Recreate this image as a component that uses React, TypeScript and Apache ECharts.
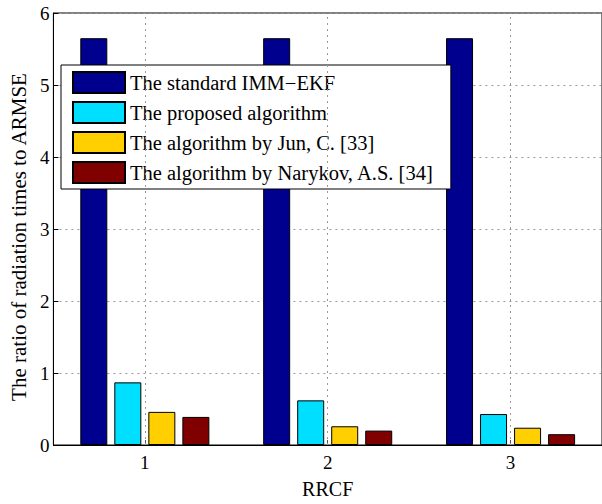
import React, { useEffect, useRef } from "react";
import * as echarts from "echarts";

const categories = ["1", "2", "3"];
const seriesNames = [
  "The standard IMM\u2212EKF",
  "The proposed algorithm",
  "The algorithm by Jun, C. [33]",
  "The algorithm by Narykov, A.S. [34]",
];
const standardImm = [5.65, 5.65, 5.65];
const proposed = [0.87, 0.62, 0.43];
const junC = [0.46, 0.26, 0.24];
const narykov = [0.39, 0.2, 0.15];
const yTicks = [0, 1, 2, 3, 4, 5, 6];
const colors = ["#00008F", "#00DFFF", "#FFCF00", "#800000"];

const FONT = "Liberation Serif";

export default function App() {
  const ref = useRef<HTMLDivElement>(null);
  useEffect(() => {
    document.body.style.margin = "0";
    const chart = echarts.init(ref.current!, null, { renderer: "svg" });
    const values = [standardImm, proposed, junC, narykov];
    const series: any[] = values.map((v, i) => ({
      type: "bar",
      name: seriesNames[i],
      data: v,
      barWidth: 27,
      barGap: "26%",
      z: 3,
      itemStyle: { color: colors[i], borderColor: "#000", borderWidth: 1 },
      emphasis: { disabled: true },
    }));
    series.push({
      type: "line",
      name: "grid",
      data: [],
      z: 1,
      silent: true,
      markLine: {
        silent: true,
        symbol: "none",
        label: { show: false },
        lineStyle: { type: [2, 4], color: "#999", width: 1 },
        data: categories.map((c) => ({ xAxis: c })),
      },
    });
    chart.setOption({
      animation: false,
      textStyle: { fontFamily: FONT },
      grid: {
        left: 50,
        right: -7,
        top: 13,
        bottom: 57,
        show: true,
        borderColor: "#000",
        borderWidth: 1,
        backgroundColor: "transparent",
      },
      legend: {
        orient: "vertical",
        left: 61,
        top: 65,
        itemWidth: 52,
        itemHeight: 21,
        itemGap: 7,
        padding: [6, 17, 5, 11],
        backgroundColor: "#fff",
        borderColor: "#000",
        borderWidth: 1,
        icon: "rect",
        selectedMode: false,
        textStyle: { fontFamily: FONT, fontSize: 20.5, color: "#000" },
        data: seriesNames,
      },
      xAxis: {
        type: "category",
        data: categories,
        name: "RRCF",
        nameLocation: "middle",
        nameGap: 34,
        nameTextStyle: { fontFamily: FONT, fontSize: 20, color: "#000" },
        axisLine: { lineStyle: { color: "#000", width: 1 } },
        axisTick: { show: true, inside: true, alignWithLabel: true, length: 5, lineStyle: { color: "#555" } },
        axisLabel: { fontFamily: FONT, fontSize: 19, color: "#000", margin: 8 },
        splitLine: { show: false },
      },
      yAxis: {
        type: "value",
        min: yTicks[0],
        max: yTicks[yTicks.length - 1],
        interval: 1,
        name: "The ratio of radiation times to ARMSE",
        nameLocation: "middle",
        nameGap: 24,
        nameTextStyle: { fontFamily: FONT, fontSize: 21, color: "#000", padding: [0, 16, 0, 0] },
        axisLine: { show: true, lineStyle: { color: "#000", width: 1 } },
        axisTick: { show: true, inside: true, length: 5, lineStyle: { color: "#000" } },
        axisLabel: { fontFamily: FONT, fontSize: 19, color: "#000", margin: 4 },
        splitLine: { show: true, lineStyle: { type: [2, 4], color: "#999", width: 1 } },
      },
      series,
    });
    return () => chart.dispose();
  }, []);
  return <div ref={ref} style={{ width: 602, height: 504 }} />;
}
